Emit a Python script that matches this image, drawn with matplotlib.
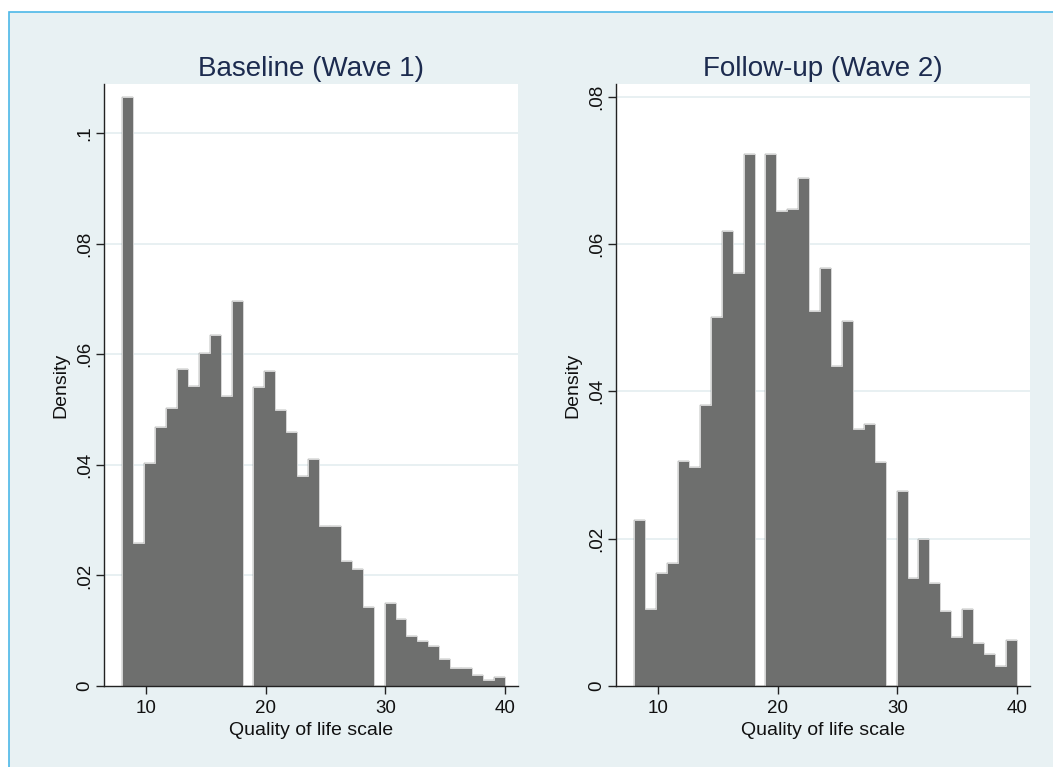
import numpy as np
import matplotlib
matplotlib.use("Agg")
import matplotlib.pyplot as plt
from matplotlib.patches import Rectangle

plt.rcParams['font.family'] = ['Liberation Sans', 'DejaVu Sans']

# histogram bins: 35 equal bins between 8 and 40
bin_start = 8
bin_end = 40
n_bins = 35

titles = ["Baseline (Wave 1)", "Follow-up (Wave 2)"]
x_label = "Quality of life scale"
y_label = "Density"

# densities
wave1_density = [0.1066, 0.0258, 0.0404, 0.0468, 0.0502, 0.0574, 0.0543, 0.0602,
                 0.0635, 0.0525, 0.0697, 0.0, 0.0540, 0.0570, 0.0499, 0.0459,
                 0.0379, 0.0410, 0.0289, 0.0289, 0.0227, 0.0211, 0.0143, 0.0,
                 0.0150, 0.0121, 0.0091, 0.0082, 0.0072, 0.0048, 0.0033, 0.0033,
                 0.0019, 0.0010, 0.0016]
wave2_density = [0.0225, 0.0105, 0.0154, 0.0167, 0.0306, 0.0297, 0.0381, 0.0501,
                 0.0618, 0.0560, 0.0722, 0.0, 0.0722, 0.0644, 0.0648, 0.0690,
                 0.0509, 0.0567, 0.0434, 0.0495, 0.0349, 0.0355, 0.0304, 0.0,
                 0.0264, 0.0147, 0.0199, 0.0140, 0.0102, 0.0066, 0.0105, 0.0059,
                 0.0043, 0.0027, 0.0063]

x_ticks = [10, 20, 30, 40]
wave1_yticks = [0, 0.02, 0.04, 0.06, 0.08, 0.1]
wave1_ylabels = ["0", ".02", ".04", ".06", ".08", ".1"]
wave2_yticks = [0, 0.02, 0.04, 0.06, 0.08]
wave2_ylabels = ["0", ".02", ".04", ".06", ".08"]

W, H = 1053, 767
fig = plt.figure(figsize=(W / 100, H / 100), dpi=100, facecolor='white')

# outer stata-style panel
fig.patches.append(Rectangle((9 / W, -0.01), 1.02, 1 - 12 / H + 0.01,
                             transform=fig.transFigure, facecolor='#e8f1f3',
                             edgecolor='#4db8e8', linewidth=1.2, zorder=-10))

edges = np.linspace(bin_start, bin_end, n_bins + 1)
widths = np.diff(edges)

panels = [
    (104, wave1_density, wave1_yticks, wave1_ylabels, 0.1089),
    (616, wave2_density, wave2_yticks, wave2_ylabels, 0.0817),
]

for (left_px, dens, yt, ylab, ytop), title in zip(panels, titles):
    ax = fig.add_axes([left_px / W, 1 - 686 / H, 414 / W, (686 - 84) / H])
    ax.set_facecolor('white')
    ax.bar(edges[:-1], dens, width=widths, align='edge', color='#6e6f6e',
           edgecolor='#6e6f6e', linewidth=0.3, zorder=2)
    # thin light outline around the filled area
    ax.stairs(dens, edges, color='#d6d6d6', linewidth=0.7, zorder=3)
    ax.set_xlim(6.47, 41.1)
    ax.set_ylim(0, ytop)
    ax.set_xticks(x_ticks)
    ax.set_yticks(yt)
    ax.set_yticklabels(ylab, rotation=90, va='center')
    for y in yt[1:]:
        ax.axhline(y, color='#e4eef0', linewidth=1.2, zorder=1)
    for s in ['top', 'right']:
        ax.spines[s].set_visible(False)
    for s in ['left', 'bottom']:
        ax.spines[s].set_color('#222222')
        ax.spines[s].set_linewidth(1.0)
        ax.spines[s].set_zorder(4)
    ax.tick_params(axis='both', length=6, width=1, color='#222222',
                   labelsize=13.5, labelcolor='#111111')
    ax.tick_params(axis='y', pad=2)
    ax.tick_params(axis='x', pad=4)
    ax.set_title(title, fontsize=20, color='#1c2b4f', pad=6)
    ax.set_xlabel(x_label, fontsize=14, color='#111111')
    ax.set_ylabel(y_label, fontsize=14, color='#111111')
    ax.xaxis.set_label_coords(0.5, -0.06)
    ax.yaxis.set_label_coords(-0.083, 0.5)

fig.savefig("out.png", dpi=100, facecolor='white')
